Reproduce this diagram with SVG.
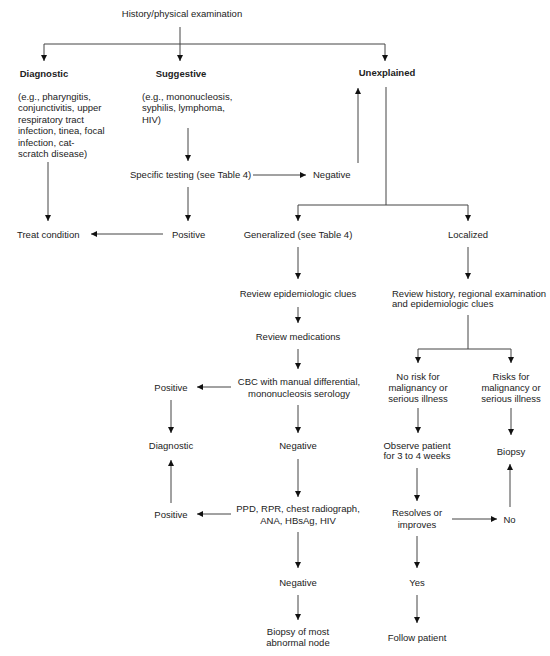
<svg xmlns="http://www.w3.org/2000/svg" width="550" height="656" viewBox="0 0 550 656">
<style>
text{font-family:"Liberation Sans",Arial,sans-serif;font-size:9.5px;fill:#222}
.b{font-weight:bold}
.m{text-anchor:middle}
.c path{fill:none;stroke:#444;stroke-width:1}
.c .a{marker-end:url(#ah)}
</style>
<defs>
<marker id="ah" viewBox="0 0 6 6" refX="6" refY="3" markerWidth="6" markerHeight="6" markerUnits="userSpaceOnUse" orient="auto">
<path d="M0,0 L6,3 L0,6 z" fill="#111"/>
</marker>
</defs>
<rect width="550" height="656" fill="#fff"/>
<g class="c" id="connectors">
<path class="a" d="M180,27 V61"/>
<path d="M44,44 H385"/>
<path class="a" d="M44,44 V61"/>
<path class="a" d="M385,44 V61"/>
<path class="a" d="M48,162 V221"/>
<path class="a" d="M188,128 V161"/>
<path class="a" d="M253,175 H306"/>
<path class="a" d="M358,163 V88"/>
<path class="a" d="M188,187 V221"/>
<path class="a" d="M163,234 H91"/>
<path d="M386,87 V205 M298,205 H468"/>
<path class="a" d="M298,205 V221"/>
<path class="a" d="M468,205 V221"/>
<path class="a" d="M298,247 V279"/>
<path class="a" d="M298,307 V323"/>
<path class="a" d="M298,349 V369"/>
<path class="a" d="M231,387 H197"/>
<path class="a" d="M171,400 V433"/>
<path class="a" d="M298,405 V433"/>
<path class="a" d="M298,459 V497"/>
<path class="a" d="M231,514 H197"/>
<path class="a" d="M171,503 V460"/>
<path class="a" d="M298,532 V568"/>
<path class="a" d="M298,595 V620"/>
<path class="a" d="M468,247 V279"/>
<path d="M468,315 V349 M418,349 H511"/>
<path class="a" d="M418,349 V363"/>
<path class="a" d="M511,349 V363"/>
<path class="a" d="M418,408 V433"/>
<path class="a" d="M511,408 V435"/>
<path class="a" d="M417,468 V501"/>
<path class="a" d="M452,519 H497"/>
<path class="a" d="M510,507 V464"/>
<path class="a" d="M417,536 V568"/>
<path class="a" d="M417,595 V623"/>
</g>
<g id="history"><text class="m" x="182" y="17">History/physical examination</text></g>
<g id="diagnostic"><text class="b m" x="44" y="77">Diagnostic</text>
<text x="18" y="99.5">(e.g., pharyngitis,</text>
<text x="18" y="111">conjunctivitis, upper</text>
<text x="18" y="122.5">respiratory tract</text>
<text x="18" y="134">infection, tinea, focal</text>
<text x="18" y="145.5">infection, cat-</text>
<text x="18" y="157">scratch disease)</text></g>
<g id="suggestive"><text class="b m" x="181" y="77">Suggestive</text>
<text x="142" y="99.5">(e.g., mononucleosis,</text>
<text x="142" y="111">syphilis, lymphoma,</text>
<text x="142" y="122.5">HIV)</text></g>
<g id="unexplained"><text class="b m" x="387" y="76">Unexplained</text></g>
<g id="specific"><text x="130" y="178">Specific testing (see Table 4)</text></g>
<g id="negative1"><text x="313" y="178">Negative</text></g>
<g id="treat"><text x="17" y="237.5">Treat condition</text></g>
<g id="positive1"><text x="172" y="237.5">Positive</text></g>
<g id="generalized"><text class="m" x="298" y="237.5">Generalized (see Table 4)</text></g>
<g id="localized"><text class="m" x="468" y="237.5">Localized</text></g>
<g id="epi"><text class="m" x="298" y="296.5">Review epidemiologic clues</text></g>
<g id="meds"><text class="m" x="298" y="339.5">Review medications</text></g>
<g id="cbc"><text class="m" x="299" y="384.5">CBC with manual differential,</text>
<text class="m" x="299" y="396.5">mononucleosis serology</text></g>
<g id="positive2"><text class="m" x="171" y="390.5">Positive</text></g>
<g id="diagnostic2"><text class="m" x="171" y="448.5">Diagnostic</text></g>
<g id="negative2"><text class="m" x="298" y="449">Negative</text></g>
<g id="ppd"><text class="m" x="298" y="511.5">PPD, RPR, chest radiograph,</text>
<text class="m" x="298" y="523.5">ANA, HBsAg, HIV</text></g>
<g id="positive3"><text class="m" x="171" y="517.5">Positive</text></g>
<g id="negative3"><text class="m" x="298" y="585.5">Negative</text></g>
<g id="biopsynode"><text class="m" x="298" y="635">Biopsy of most</text>
<text class="m" x="298" y="646">abnormal node</text></g>
<g id="reviewhist"><text x="392" y="296.5">Review history, regional examination</text>
<text x="392" y="307">and epidemiologic clues</text></g>
<g id="norisk"><text class="m" x="418" y="379.5">No risk for</text>
<text class="m" x="418" y="390.5">malignancy or</text>
<text class="m" x="418" y="402">serious illness</text></g>
<g id="risks"><text class="m" x="511" y="379.5">Risks for</text>
<text class="m" x="511" y="390.5">malignancy or</text>
<text class="m" x="511" y="402">serious illness</text></g>
<g id="observe"><text class="m" x="417" y="448.5">Observe patient</text>
<text class="m" x="417" y="459">for 3 to 4 weeks</text></g>
<g id="biopsy"><text class="m" x="511" y="454.5">Biopsy</text></g>
<g id="resolves"><text class="m" x="417" y="516">Resolves or</text>
<text class="m" x="417" y="527.5">improves</text></g>
<g id="no"><text class="m" x="509.5" y="522.5">No</text></g>
<g id="yes"><text class="m" x="417" y="585.5">Yes</text></g>
<g id="follow"><text class="m" x="417" y="640.5">Follow patient</text></g>
</svg>
